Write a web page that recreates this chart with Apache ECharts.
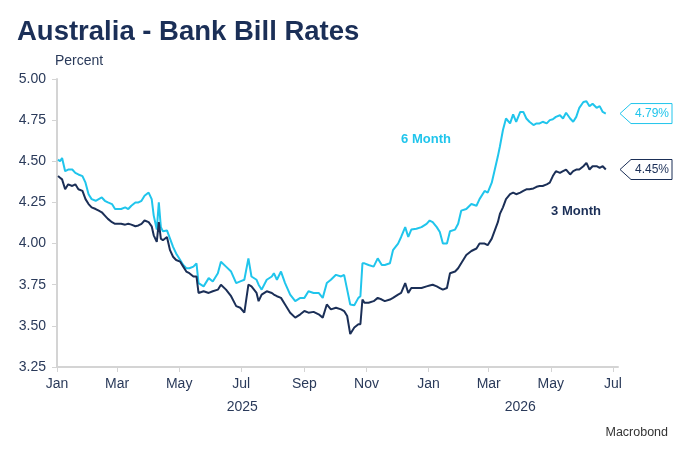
<!DOCTYPE html>
<html>
<head>
<meta charset="utf-8">
<script src="https://cdn.jsdelivr.net/npm/echarts@6.0.0/dist/echarts.min.js"></script>
<style>
  html, body { margin: 0; padding: 0; background: #fff; }
  #chart { width: 689px; height: 461px; }
</style>
</head>
<body>
<div id="chart"></div>
<script>
// dates of the readings (roughly every few days)
var dates = [
  '2025-01-02','2025-01-04','2025-01-06','2025-01-09','2025-01-12','2025-01-16','2025-01-19','2025-01-22','2025-01-26','2025-01-29',
  '2025-02-01','2025-02-04','2025-02-08','2025-02-11','2025-02-14','2025-02-17','2025-02-20','2025-02-24','2025-02-27',
  '2025-03-02','2025-03-05','2025-03-09','2025-03-12','2025-03-15','2025-03-19','2025-03-22','2025-03-25','2025-03-28',
  '2025-04-01','2025-04-02','2025-04-04','2025-04-06','2025-04-09','2025-04-11','2025-04-13','2025-04-15','2025-04-19','2025-04-22','2025-04-25','2025-04-28',
  '2025-05-02','2025-05-05','2025-05-08','2025-05-11','2025-05-15','2025-05-18','2025-05-20','2025-05-25','2025-05-30',
  '2025-06-03','2025-06-08','2025-06-11','2025-06-16','2025-06-21','2025-06-26','2025-06-30',
  '2025-07-04','2025-07-08','2025-07-11','2025-07-16','2025-07-18','2025-07-21','2025-07-26','2025-07-31',
  '2025-08-02','2025-08-05','2025-08-09','2025-08-13','2025-08-18','2025-08-23','2025-08-28',
  '2025-09-01','2025-09-05','2025-09-10','2025-09-15','2025-09-19','2025-09-23','2025-09-27',
  '2025-10-02','2025-10-07','2025-10-10','2025-10-13','2025-10-16','2025-10-20','2025-10-24','2025-10-26','2025-10-28','2025-10-30',
  '2025-11-03','2025-11-08','2025-11-12','2025-11-16','2025-11-19','2025-11-24','2025-11-27',
  '2025-12-02','2025-12-05','2025-12-09','2025-12-12','2025-12-15','2025-12-20','2025-12-25','2025-12-30',
  '2026-01-02','2026-01-05','2026-01-09','2026-01-12','2026-01-15','2026-01-19','2026-01-22','2026-01-27','2026-01-30',
  '2026-02-02','2026-02-07','2026-02-12','2026-02-17','2026-02-20','2026-02-25','2026-02-28',
  '2026-03-04','2026-03-07','2026-03-10','2026-03-12','2026-03-15','2026-03-18','2026-03-22','2026-03-25','2026-03-28',
  '2026-04-01','2026-04-04','2026-04-07','2026-04-10','2026-04-14','2026-04-17','2026-04-20','2026-04-23','2026-04-27','2026-04-30',
  '2026-05-03','2026-05-06','2026-05-10','2026-05-13','2026-05-16','2026-05-20','2026-05-23','2026-05-26','2026-05-29',
  '2026-06-02','2026-06-05','2026-06-08','2026-06-11','2026-06-15','2026-06-18','2026-06-21','2026-06-24'
];

// 6 month bank bill rate, %
var sixMonth = [
  4.51,4.50,4.52,4.44,4.45,4.45,4.43,4.42,4.41,4.37,
  4.30,4.27,4.26,4.27,4.28,4.26,4.25,4.24,4.21,
  4.21,4.21,4.22,4.21,4.23,4.25,4.25,4.26,4.29,
  4.31,4.30,4.27,4.17,4.085,4.25,4.10,4.075,4.08,4.03,3.98,3.94,
  3.90,3.87,3.85,3.85,3.86,3.88,3.76,3.74,3.79,
  3.77,3.82,3.89,3.86,3.83,3.76,3.77,
  3.78,3.91,3.80,3.78,3.75,3.72,3.78,3.80,
  3.82,3.78,3.83,3.76,3.69,3.65,3.67,
  3.67,3.71,3.70,3.70,3.67,3.76,3.78,
  3.81,3.80,3.81,3.72,3.63,3.625,3.67,3.68,3.88,3.88,
  3.87,3.86,3.91,3.87,3.87,3.88,3.96,
  4.00,4.04,4.10,4.04,4.085,4.09,4.10,4.12,
  4.14,4.13,4.10,4.07,4.00,4.00,4.075,4.085,4.12,
  4.20,4.21,4.24,4.23,4.27,4.32,4.31,
  4.37,4.45,4.53,4.59,4.69,4.76,4.73,4.785,4.74,
  4.80,4.80,4.76,4.74,4.72,4.73,4.73,4.74,4.73,4.75,
  4.755,4.77,4.78,4.76,4.795,4.76,4.74,4.77,4.825,
  4.86,4.865,4.835,4.85,4.825,4.835,4.80,4.79
];

// 3 month bank bill rate, %
var threeMonth = [
  4.41,4.40,4.39,4.33,4.36,4.35,4.36,4.33,4.32,4.27,
  4.24,4.22,4.21,4.20,4.19,4.17,4.15,4.13,4.12,
  4.12,4.12,4.115,4.12,4.115,4.105,4.11,4.12,4.14,
  4.13,4.135,4.105,4.05,4.01,4.13,4.03,4.02,4.04,3.96,3.92,3.90,
  3.89,3.86,3.83,3.82,3.80,3.80,3.70,3.71,3.70,
  3.71,3.72,3.75,3.72,3.68,3.62,3.61,
  3.58,3.75,3.74,3.70,3.65,3.69,3.71,3.70,
  3.69,3.68,3.67,3.63,3.58,3.55,3.57,
  3.59,3.58,3.585,3.57,3.55,3.63,3.60,
  3.61,3.60,3.59,3.56,3.45,3.49,3.51,3.51,3.66,3.64,
  3.64,3.65,3.67,3.66,3.65,3.66,3.67,
  3.69,3.70,3.76,3.70,3.73,3.73,3.73,3.74,
  3.745,3.75,3.74,3.73,3.72,3.73,3.82,3.83,3.85,
  3.88,3.93,3.955,3.97,4.00,4.00,3.99,
  4.03,4.08,4.13,4.18,4.22,4.27,4.30,4.31,4.30,
  4.31,4.32,4.33,4.33,4.335,4.345,4.35,4.35,4.36,4.37,
  4.41,4.44,4.43,4.44,4.45,4.42,4.44,4.45,4.45,
  4.47,4.49,4.45,4.47,4.47,4.46,4.47,4.45
];

var monthNames = ['Jan','Feb','Mar','Apr','May','Jun','Jul','Aug','Sep','Oct','Nov','Dec'];

var cyan = '#20c5ec';
var navy = '#1b2f57';
var textCol = '#2a3a5a';
var axisCol = '#d4d4d4';
var font = 'Liberation Sans, Arial, sans-serif';

function ts(s) {
    var p = s.split('-');
    return new Date(+p[0], +p[1] - 1, +p[2]).getTime();
}

// label every second month
var monthTicks = [];
for (var i = 0; i <= 18; i += 2) {
    monthTicks.push(new Date(2025, i, 1).getTime());
}

function zip(xs, ys) {
    var out = [];
    for (var i = 0; i < xs.length; i++) out.push([ts(xs[i]), ys[i]]);
    return out;
}

var myChart = echarts.init(document.getElementById('chart'));

var option = {
    animation: false,
    backgroundColor: '#fff',
    textStyle: { fontFamily: font },
    grid: { left: 57, right: 71, top: 79, bottom: 94, containLabel: false },
    xAxis: {
        type: 'value',
        min: new Date(2025, 0, 1).getTime(),
        max: new Date(2026, 6, 6).getTime(),
        axisLine: { lineStyle: { color: axisCol, width: 2 } },
        axisTick: { show: true, length: 5, customValues: monthTicks, lineStyle: { color: axisCol, width: 1 } },
        axisLabel: {
            customValues: monthTicks,
            color: textCol,
            fontSize: 14,
            margin: 10,
            formatter: function (v) { return monthNames[new Date(v).getMonth()]; }
        },
        splitLine: { show: false }
    },
    yAxis: {
        type: 'value',
        min: 3.25,
        max: 5.0,
        interval: 0.25,
        axisLine: { show: true, lineStyle: { color: axisCol, width: 2 } },
        axisTick: { show: true, length: 5, lineStyle: { color: axisCol } },
        axisLabel: {
            color: textCol,
            fontSize: 14,
            margin: 11,
            formatter: function (v) { return v.toFixed(2); }
        },
        splitLine: { show: false }
    },
    series: [
        {
            name: '6 Month',
            type: 'line',
            data: zip(dates, sixMonth),
            showSymbol: false,
            lineStyle: { color: cyan, width: 2 },
            itemStyle: { color: cyan },
            z: 2
        },
        {
            name: '3 Month',
            type: 'line',
            data: zip(dates, threeMonth),
            showSymbol: false,
            lineStyle: { color: navy, width: 2 },
            itemStyle: { color: navy },
            z: 3
        }
    ]
};

myChart.setOption(option);

// value tags at the right end, year labels, titles
function tag(y, val, col) {
    var x0 = 620;
    return {
        type: 'group',
        children: [
            {
                type: 'polygon',
                shape: { points: [[x0, y], [x0 + 11, y - 10], [x0 + 52, y - 10], [x0 + 52, y + 10], [x0 + 11, y + 10]] },
                style: { fill: '#fff', stroke: col, lineWidth: 1 }
            },
            {
                type: 'text',
                x: x0 + 32, y: y,
                style: { text: val.toFixed(2) + '%', fill: col, font: '12px ' + font, align: 'center', verticalAlign: 'middle' }
            }
        ]
    };
}

var last = dates.length - 1;
var y6 = myChart.convertToPixel({ gridIndex: 0 }, [ts(dates[last]), sixMonth[last]])[1];
var y3 = myChart.convertToPixel({ gridIndex: 0 }, [ts(dates[last]), threeMonth[last]])[1];
var x2025 = myChart.convertToPixel({ xAxisIndex: 0 }, new Date(2025, 6, 2).getTime());
var x2026 = myChart.convertToPixel({ xAxisIndex: 0 }, new Date(2026, 3, 1).getTime());

myChart.setOption({
    graphic: [
        { type: 'text', left: 17, top: 18, style: { text: 'Australia - Bank Bill Rates', fill: navy, font: 'bold 27.5px ' + font } },
        { type: 'text', left: 55, top: 54, style: { text: 'Percent', fill: textCol, font: '14px ' + font } },
        { type: 'text', x: x2025, y: 407, style: { text: '2025', fill: textCol, font: '14px ' + font, align: 'center', verticalAlign: 'middle' } },
        { type: 'text', x: x2026, y: 407, style: { text: '2026', fill: textCol, font: '14px ' + font, align: 'center', verticalAlign: 'middle' } },
        { type: 'text', x: 426, y: 139, style: { text: '6 Month', fill: cyan, font: 'bold 13px ' + font, align: 'center', verticalAlign: 'middle' } },
        { type: 'text', x: 576, y: 211, style: { text: '3 Month', fill: navy, font: 'bold 13px ' + font, align: 'center', verticalAlign: 'middle' } },
        { type: 'text', right: 21, top: 426, style: { text: 'Macrobond', fill: '#333', font: '12.5px ' + font } },
        tag(y6, sixMonth[last], cyan),
        tag(y3, threeMonth[last], navy)
    ]
});
</script>
</body>
</html>
